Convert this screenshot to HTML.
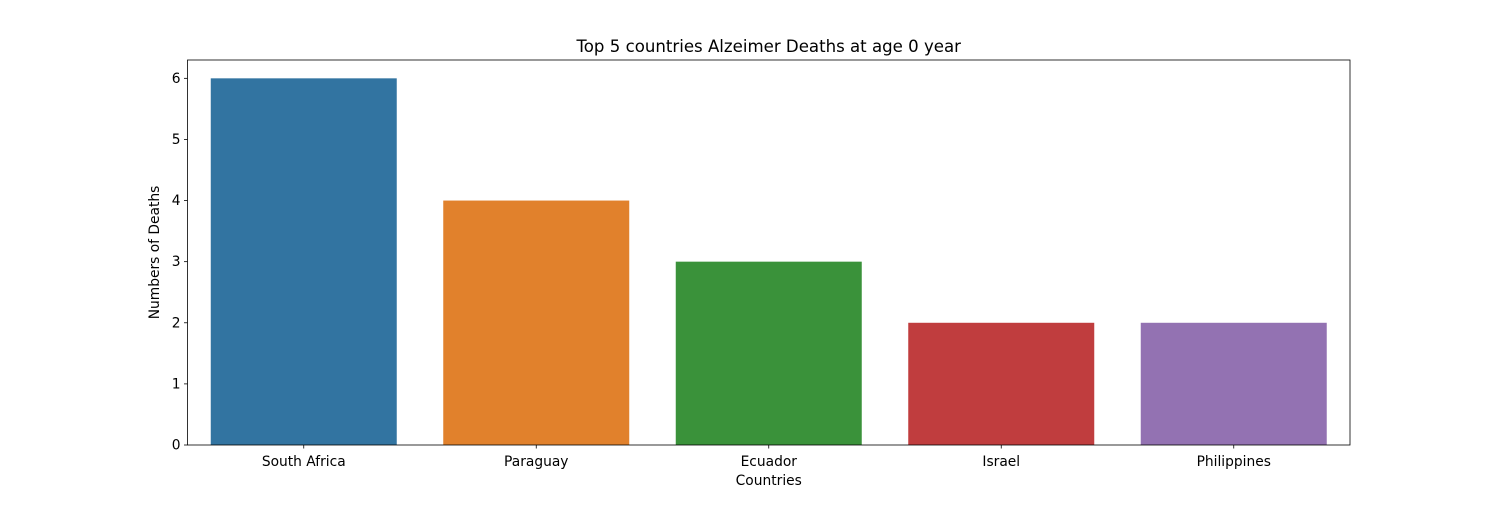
<!DOCTYPE html>
<html><head><meta charset="utf-8"><style>
body{margin:0;background:#fff;}
svg text{font-family:"DejaVu Sans","Liberation Sans",sans-serif;fill:#000;}
</style></head><body>
<svg id="chart" width="1500" height="500" xmlns="http://www.w3.org/2000/svg"></svg>
<script>
const categories = ["South Africa","Paraguay","Ecuador","Israel","Philippines"];
const deaths = [6,4,3,2,2];
const colors = ["#3274a1","#e1812c","#3a923a","#c03d3e","#9372b2"];
const yTicks = [0,1,2,3,4,5,6];

const L=187.5,R=1350,T=60,B=445;
const yMax=Math.max(...deaths)*1.05;
const xs=i=>L+(i+0.5)*(R-L)/categories.length;
const ys=v=>B-v/yMax*(B-T);
const NS="http://www.w3.org/2000/svg";
const svg=document.getElementById('chart');
function mk(tag,attrs,text){const e=document.createElementNS(NS,tag);for(const k in attrs)e.setAttribute(k,attrs[k]);if(text!==undefined)e.textContent=text;svg.appendChild(e);return e;}

const bw=0.8*(R-L)/categories.length;
categories.forEach((c,i)=>{
  const r=mk('rect',{x:xs(i)-bw/2,y:ys(deaths[i]),width:bw,height:B-ys(deaths[i]),fill:colors[i]});
  
  
  mk('line',{x1:xs(i),x2:xs(i),y1:B,y2:B+3.5,stroke:'#000','stroke-width':0.8});
  const t=mk('text',{x:xs(i),y:B+21,'text-anchor':'middle','font-size':13.8},c);
  
  
});
yTicks.forEach(v=>{
  mk('line',{x1:L-3.5,x2:L,y1:ys(v),y2:ys(v),stroke:'#000','stroke-width':0.8});
  const t=mk('text',{x:L-7,y:ys(v)+4.5,'text-anchor':'end','font-size':13.8},v);
  
  
});
const f=mk('rect',{x:L,y:T,width:R-L,height:B-T,fill:'none',stroke:'#000','stroke-width':0.8});


const ti=mk('text',{x:(L+R)/2,y:52,'text-anchor':'middle','font-size':16.6},'Top 5 countries Alzeimer Deaths at age 0 year');


const xt=mk('text',{x:(L+R)/2,y:485,'text-anchor':'middle','font-size':13.8},'Countries');


const yt=mk('text',{x:0,y:0,'text-anchor':'middle','font-size':13.8,transform:`translate(159,${(T+B)/2}) rotate(-90)`},'Numbers of Deaths');


</script>
</body></html>
